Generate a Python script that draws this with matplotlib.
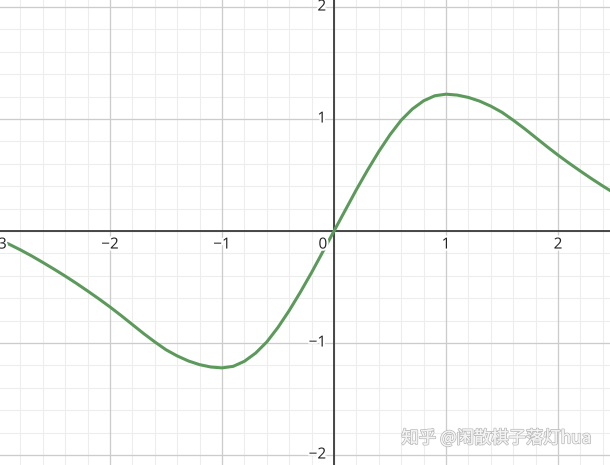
import numpy as np
import matplotlib
matplotlib.use("Agg")
import matplotlib.pyplot as plt
import matplotlib.patheffects as pe

xs = [-3.0, -2.9, -2.8, -2.7, -2.6, -2.5, -2.4, -2.3, -2.2, -2.1,
      -2.0, -1.9, -1.8, -1.7, -1.6, -1.5, -1.4, -1.3, -1.2, -1.1,
      -1.0, -0.9, -0.8, -0.7, -0.6, -0.5, -0.4, -0.3, -0.2, -0.1,
      0.0, 0.1, 0.2, 0.3, 0.4, 0.5, 0.6, 0.7, 0.8, 0.9,
      1.0, 1.1, 1.2, 1.3, 1.4, 1.5, 1.6, 1.7, 1.8, 1.9,
      2.0, 2.1, 2.2, 2.3, 2.4, 2.5]
ys = [-0.072, -0.118, -0.168, -0.222, -0.28, -0.34, -0.402, -0.467, -0.535, -0.605,
      -0.678, -0.755, -0.835, -0.915, -0.99, -1.06, -1.115, -1.16, -1.193, -1.214,
      -1.222, -1.208, -1.163, -1.09, -0.99, -0.86, -0.71, -0.545, -0.37, -0.185,
      0.0, 0.185, 0.37, 0.545, 0.71, 0.86, 0.99, 1.09, 1.163, 1.208,
      1.222, 1.214, 1.193, 1.16, 1.115, 1.06, 0.99, 0.915, 0.835, 0.755,
      0.678, 0.605, 0.535, 0.467, 0.402, 0.34]

xTicks = [-3, -2, -1, 1, 2]
yTicks = [-2, -1, 1, 2]
watermark = "知乎 @闲散棋子落灯hua"

xlim = (-2.982, 2.464)
ylim = (-2.089, 2.063)

fig = plt.figure(figsize=(6.1, 4.65), dpi=100)
ax = fig.add_axes([0, 0, 1, 1])
ax.set_xlim(*xlim)
ax.set_ylim(*ylim)
ax.axis("off")

# grid
for v in np.arange(-3.0, 2.6, 0.2):
    ax.axvline(v, color="#ededed", lw=0.8, zorder=0)
for v in np.arange(-2.0, 2.2, 0.2):
    ax.axhline(v, color="#ededed", lw=0.8, zorder=0)
for v in range(-3, 3):
    ax.axvline(v, color="#cccccc", lw=0.9, zorder=1)
for v in range(-2, 3):
    ax.axhline(v, color="#cccccc", lw=0.9, zorder=1)

ax.axhline(0, color="#3a3a3a", lw=1.3, zorder=2)
ax.axvline(0, color="#3a3a3a", lw=1.3, zorder=2)

ax.plot(xs, ys, color="#5c9a5c", lw=2.2, zorder=3,
        solid_capstyle="round", solid_joinstyle="round")

halo = [pe.withStroke(linewidth=3, foreground="white")]
font = ["Open Sans", "DejaVu Sans"]
for t in xTicks:
    ax.text(t, -0.125, f"{t}".replace("-", "\u2212"), ha="center", va="center",
            fontsize=11, family=font, color="#222222", path_effects=halo, zorder=4)
ax.text(-0.1, -0.125, "0", ha="center", va="center", fontsize=11, family=font,
        color="#222222", path_effects=halo, zorder=4)
for t in yTicks:
    ax.text(-0.07, t, f"{t}".replace("-", "\u2212"), ha="right", va="center",
            fontsize=11, family=font, color="#222222", path_effects=halo, zorder=4)

ax.text(0.97, 0.058, watermark, transform=ax.transAxes, ha="right", va="center",
        fontsize=12.5, family=["Noto Sans CJK SC", "DejaVu Sans"], color="#f4f4f4",
        path_effects=[pe.withStroke(linewidth=1.3, foreground="#bdbdbd"), pe.Normal()],
        zorder=5)

fig.savefig("out.png", dpi=100)
